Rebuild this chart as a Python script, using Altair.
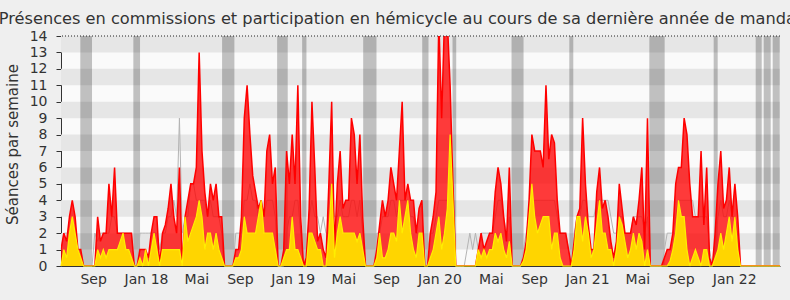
import altair as alt
import pandas as pd

# weekly values (week index 0..255)
total = [
    1, 2, 1.5, 3, 4, 3, 1, 1, 0, 0,
    0, 0, 0, 3, 1.5, 2, 2, 5, 3, 6,
    2, 2, 2, 2, 2, 2, 0, 0, 1, 1,
    1, 0.5, 2, 3, 3, 0, 2, 2.5, 3.5, 5,
    3, 2, 6, 0, 3, 4, 5, 5, 6, 13,
    7, 4.5, 3, 5, 4, 5, 3, 3, 0, 0,
    0, 0, 1, 1, 3, 9, 11, 8, 5.5, 4.5,
    3.5, 4, 3, 7, 8, 5, 6, 0, 0, 1,
    7, 5, 8, 5, 11, 3, 0, 0.5, 3.5, 10,
    6, 1.5, 2, 1, 0.5, 5, 10, 1, 5, 7,
    3.5, 4, 4, 9, 8, 5, 8, 3, 0, 0,
    0, 0, 1, 2.5, 4, 3, 4, 6, 5, 4,
    7, 10, 4, 5, 4, 4, 2, 3.5, 4, 0,
    0, 2, 3, 4.5, 15, 9, 15, 15, 11, 5,
    0, 0, 0, 0, 0, 0, 0, 0, 1, 2,
    1, 1.5, 2, 2, 4.5, 6, 5, 3, 1.5, 6,
    0, 0, 0, 0, 0.5, 1.5, 4, 8, 7, 7,
    7, 6, 11, 6.5, 8, 7.5, 4, 2, 2, 2,
    1, 0, 1.5, 3, 3.5, 9, 5, 2.5, 1, 1,
    4.5, 6, 3.5, 4, 3, 1.5, 0.5, 1.5, 5, 3.5,
    2, 2, 2, 3, 2.5, 4, 6, 1, 9, 0,
    0, 0, 0, 0, 0.5, 1, 1, 2, 5, 6,
    6, 9, 8, 5, 3, 3, 3, 7, 2.5, 6,
    0.5, 0, 2, 5, 7, 3.5, 4, 6, 3, 5,
    3, 0, 0, 0, 0, 0, 0, 0, 0, 0,
    0, 0, 0, 0, 0, 0,
]
hemicycle = [
    0, 1, 0.5, 2, 3, 2, 1, 0.5, 0, 0,
    0, 0, 0, 1, 0.5, 1, 0.5, 1, 1, 1,
    1, 1.5, 2, 1, 1, 0.5, 0, 0, 0.5, 0,
    1, 0, 1, 2, 1, 0, 1, 1, 1, 1,
    1, 1, 1, 0, 3, 1.5, 2, 2.5, 3, 4,
    3, 1, 2, 2, 1, 2, 1, 0.5, 0, 0,
    0, 0, 0.5, 0.5, 1, 3, 2, 2, 2, 2,
    3, 4, 2, 2, 2, 2, 1, 0, 0, 0.5,
    1, 1, 3, 1, 1, 0.5, 0, 0, 2, 2,
    1.5, 1, 1, 0, 0, 2, 5, 0.5, 2, 3,
    2, 2, 2, 2, 2, 1.5, 2, 1, 0, 0,
    0, 0, 0.5, 2, 0.5, 0.5, 1, 2, 2, 1.5,
    4, 2, 3, 4, 2, 1, 0.5, 2, 2, 0,
    0, 0.5, 1, 2, 3, 1, 2, 3.5, 8, 4,
    0, 0, 0, 0, 0, 0, 0, 0, 1, 0.5,
    1, 0.5, 1, 1, 2, 1.5, 2, 1, 0.5, 1.5,
    0, 0, 0, 0, 0.3, 1, 3, 5, 3, 2,
    2.5, 3, 3, 3, 1, 2, 2, 0.5, 0, 0,
    0, 0, 1, 3, 3, 1.5, 3, 2, 0.5, 1,
    2.5, 4, 2, 2, 1, 1, 0, 1, 3, 2.5,
    1.5, 0.5, 1, 2, 1, 2, 1.5, 0, 1, 0,
    0, 0, 0, 0, 0, 0, 0.3, 1, 2, 4,
    3, 3, 1, 0, 0.5, 1, 0.5, 0, 1, 1,
    0, 0, 0.5, 1, 2, 1, 2, 3, 1.5, 3,
    1, 0, 0, 0, 0, 0, 0, 0, 0, 0,
    0, 0, 0, 0, 0, 0,
]
median = [
    1, 2, 2, 2, 2, 2, 1, 1, 0, 0,
    0, 0, 2, 1.5, 2, 2, 2, 2, 3, 3,
    2, 2, 2, 2, 2, 2, 0, 0, 2, 2,
    2, 2, 2, 2, 2, 1, 2, 2, 3, 3,
    4, 3, 9, 2, 3, 3, 5, 5, 4, 4,
    4, 4, 3, 4, 3, 3, 3, 2, 0, 0,
    0, 0, 2, 2, 2, 4, 4, 5, 4, 4,
    3, 4, 3, 4, 4, 4, 3, 0, 0, 0,
    2, 3, 3, 4, 4, 2, 0, 1, 3, 4,
    3, 3, 2, 3, 2, 2, 4, 3, 3, 4,
    3, 3, 3, 4, 4, 3, 4, 2, 0, 0,
    0, 0, 2, 2, 3, 3, 3, 4, 4, 3,
    4, 4, 4, 4, 3, 3, 2, 2, 2, 0,
    1, 2, 2, 3, 4, 4, 4, 4, 4, 3,
    0, 0, 0, 0, 1, 2, 1, 2, 1, 2,
    2, 2, 2, 2, 3, 4, 4, 3, 2, 3,
    0, 0, 0, 0, 1, 2, 3, 4, 4, 4,
    4, 4, 4, 4, 4, 4, 3, 2, 2, 2,
    1, 0, 2, 3, 3, 4, 4, 3, 3, 3,
    4, 4, 4, 4, 4, 3, 2, 2, 3, 3,
    2, 2, 2, 3, 3, 3, 3, 2, 3, 0,
    0, 0, 0, 0, 1, 2, 2, 2, 3, 4,
    4, 4, 4, 4, 4, 3, 3, 3, 3, 3,
    1, 0, 1, 3, 4, 3, 3, 4, 3, 3,
    2, 0, 0, 0, 0, 0, 0, 0, 0, 0,
    0, 0, 0, 0, 0, 0,
]
weeks = list(range(len(total)))

# parliamentary holidays (week ranges)
hol_start = [6.85, 25.66, 57.13, 76.65, 85.52, 107.17, 128.11, 138.86, 159.79,
             180.27, 208.66, 231.48, 246.38, 249.22, 252.41]
hol_end = [11.0, 28.03, 61.5, 80.41, 87.05, 111.89, 130.34, 140.17, 164.05,
           181.69, 214.09, 232.9, 248.51, 251.7, 254.9]

# x tick labels
tick_weeks = [11.39, 30.16, 48.01, 63.45, 82.19, 100.11, 115.33, 134.24,
              152.45, 167.78, 186.59, 204.4, 219.84, 238.75]
tick_labels = ["Sep", "Jan 18", "Mai", "Sep", "Jan 19", "Mai", "Sep", "Jan 20",
               "Mai", "Sep", "Jan 21", "Mai", "Sep", "Jan 22"]

X_MIN, X_MAX = 0, 255
Y_MAX = 14
stripe_lo = [1, 3, 5, 7, 9, 11, 13]

df = pd.DataFrame({"week": weeks, "total": total, "hem": hemicycle, "med": median})
stripes = pd.DataFrame({"lo": stripe_lo, "hi": [v + 1 for v in stripe_lo],
                        "x0": X_MIN, "x1": X_MAX})
hols = pd.DataFrame({"start": hol_start, "end": hol_end, "y0": 0, "y1": Y_MAX})
top = pd.DataFrame({"top": [Y_MAX]})

labels_js = "[" + ",".join("'" + l + "'" for l in tick_labels) + "]"
vals_js = "[" + ",".join(str(v) for v in tick_weeks) + "]"

FONT = "DejaVu Sans"
xs = alt.Scale(domain=[X_MIN, X_MAX], nice=False, zero=False)
ys = alt.Scale(domain=[0, Y_MAX], nice=False)
xaxis = alt.Axis(values=tick_weeks, labelExpr=f"{labels_js}[indexof({vals_js}, datum.value)]",
                 title=None, ticks=False, tickSize=0, grid=False, domainColor="#333333",
                 labelFont=FONT, labelFontSize=14, labelColor="#333333", labelPadding=6,
                 labelOverlap=False)
yaxis = alt.Axis(values=list(range(0, Y_MAX + 1)), title="Séances par semaine", grid=False,
                 tickSize=5, tickColor="#333333", domainColor="#333333",
                 labelFont=FONT, labelFontSize=14, labelColor="#333333", labelPadding=9,
                 titleFont=FONT, titleFontSize=15, titleFontWeight="normal", titleColor="#333333",
                 titleAngle=270, titleAlign="center", titleBaseline="middle",
                 titleX=-49, titleY=108)


def X(f):
    return alt.X(f, type="quantitative", scale=xs, axis=xaxis)


def Y(f):
    return alt.Y(f, type="quantitative", scale=ys, axis=yaxis)


stripe_layer = alt.Chart(stripes).mark_rect(color="#e6e6e6").encode(
    x=X("x0"), x2="x1", y=Y("lo"), y2="hi")
hol_layer = alt.Chart(hols).mark_rect(color="#000000", opacity=0.23).encode(
    x=X("start"), x2="end", y=Y("y0"), y2="y1")
base = alt.Chart(df)
med_line = base.mark_line(color="#b4b4b4", strokeWidth=1).encode(x=X("week"), y=Y("med"))
red_area = base.mark_area(color="#ff0000", opacity=0.77, clip=True).encode(x=X("week"), y=Y("total"))
red_line = base.mark_line(color="#ff0000", strokeWidth=1.5, clip=True).encode(x=X("week"), y=Y("total"))
yel_area = base.mark_area(color="#ffd500").encode(x=X("week"), y=Y("hem"))
yel_line = base.mark_line(color="#ffee00", strokeWidth=1.2).encode(x=X("week"), y=Y("hem"))
top_rule = alt.Chart(top).mark_rule(color="#222222", strokeDash=[1, 2], strokeWidth=1).encode(y=Y("top"))

chart = alt.layer(
    stripe_layer, hol_layer, med_line, red_area, red_line, yel_area, yel_line, top_rule
).properties(
    width=719, height=230,
    autosize=alt.AutoSizeParams(type="none"),
    padding={"left": 61, "top": 36, "right": 10, "bottom": 34},
    background="#efefef",
    title=alt.TitleParams(
        text="Présences en commissions et participation en hémicycle au cours de sa dernière année de mandat",
        font=FONT, fontSize=16.2, fontWeight="normal", color="#333333",
        anchor="middle", frame="group", dx=-20, dy=22, offset=11, baseline="alphabetic"),
).configure_view(fill="#fafafa", stroke=None)

chart.save("out.html", embed_options={"renderer": "svg", "actions": False})
